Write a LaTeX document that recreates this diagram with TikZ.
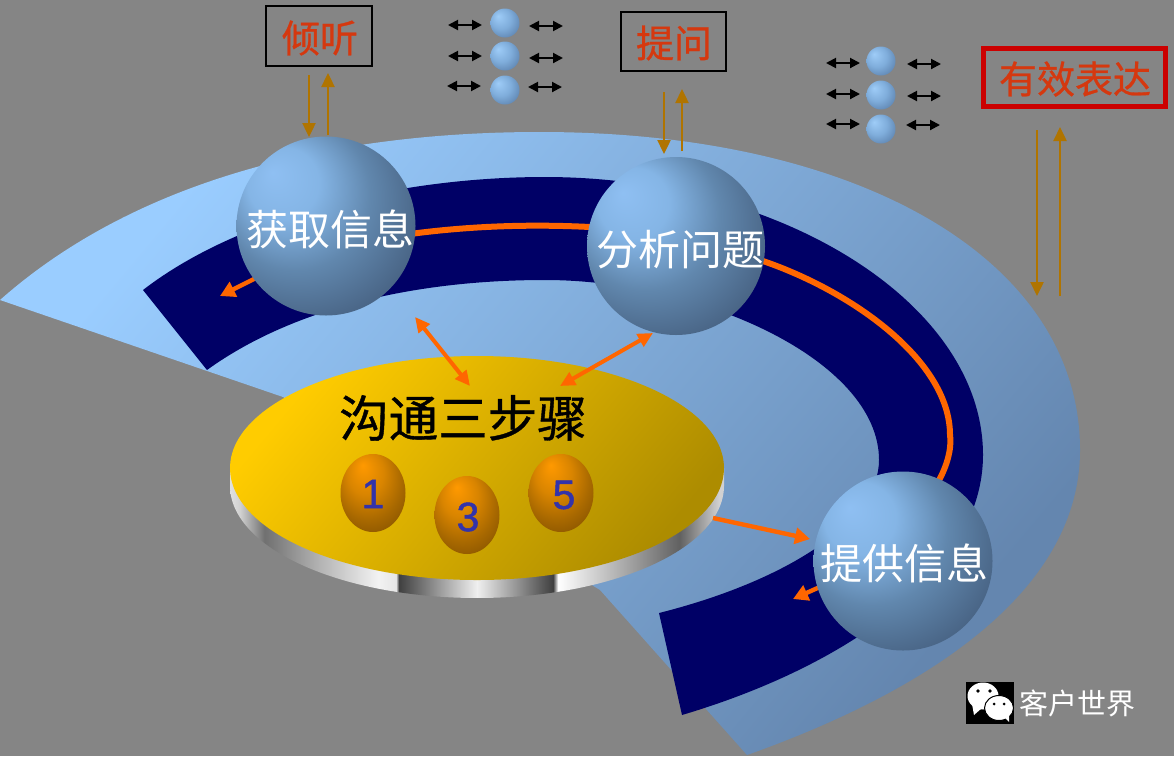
\documentclass[tikz,border=0pt]{standalone}
\usepackage{fontspec}
\setmainfont{Liberation Sans}
\newfontfamily\cjk{Noto Sans CJK SC}
\newfontfamily\cjkfat[FakeBold=0.8]{Noto Sans CJK SC}
\newfontfamily\numfat[FakeBold=1.2]{Liberation Sans}
\usetikzlibrary{arrows.meta,shapes.geometric}
\definecolor{bgc}{HTML}{858585}
\definecolor{navyc}{HTML}{000066}
\definecolor{orangec}{HTML}{FF6600}
\definecolor{brownc}{HTML}{B07400}
\definecolor{redtxt}{HTML}{D5380F}
\definecolor{redbox}{HTML}{CC0000}
\definecolor{numc}{HTML}{3333AA}
\definecolor{secA}{HTML}{9ACDFF}
\definecolor{secB}{HTML}{6486AF}
\definecolor{discA}{HTML}{FFCC00}
\definecolor{discB}{HTML}{AD8C00}
\pgfdeclareradialshading{sphshade}{\pgfpoint{-15bp}{15bp}}{%
 rgb(0bp)=(0.56,0.75,0.95);rgb(10bp)=(0.52,0.71,0.90);rgb(21bp)=(0.38,0.53,0.68);rgb(32bp)=(0.29,0.40,0.53);rgb(44bp)=(0.20,0.27,0.36);rgb(50bp)=(0.20,0.27,0.36)}
\pgfdeclareradialshading{smallshade}{\pgfpoint{-12bp}{12bp}}{%
 rgb(0bp)=(0.62,0.80,0.97);rgb(18bp)=(0.50,0.68,0.86);rgb(38bp)=(0.33,0.47,0.64);rgb(50bp)=(0.33,0.47,0.64)}
\pgfdeclareradialshading{eggshade}{\pgfpoint{-8bp}{18bp}}{%
 rgb(0bp)=(1,0.60,0);rgb(14bp)=(0.85,0.52,0);rgb(26bp)=(0.66,0.41,0);rgb(40bp)=(0.47,0.29,0);rgb(50bp)=(0.47,0.29,0)}
\pgfdeclarehorizontalshading{rimshade}{100bp}{%
 rgb(0bp)=(0.88,0.88,0.88);rgb(25bp)=(0.88,0.88,0.88);rgb(26bp)=(0.82,0.82,0.82);rgb(28.5bp)=(0.44,0.44,0.44);rgb(34bp)=(0.70,0.70,0.70);rgb(40bp)=(0.95,0.95,0.95);rgb(41.8bp)=(0.90,0.90,0.90);rgb(42.1bp)=(0.25,0.25,0.25);rgb(50bp)=(0.94,0.94,0.94);rgb(57.7bp)=(0.25,0.25,0.25);rgb(58.2bp)=(1,1,1);rgb(70.5bp)=(0.38,0.38,0.38);rgb(74.5bp)=(0.82,0.82,0.82);rgb(100bp)=(0.82,0.82,0.82)}
\tikzset{
 bigball/.style={circle,minimum size=#1,inner sep=0pt,shading=sphshade},
 smallball/.style={circle,minimum size=29pt,inner sep=0pt,shading=smallshade},
 eggnode/.style={ellipse,minimum width=65pt,minimum height=78pt,inner sep=0pt,shading=eggshade},
 balllabel/.style={text=white,font=\cjk\fontsize{42}{42}\selectfont,inner sep=0pt},
 redlabel/.style={text=redtxt,font=\cjkfat\fontsize{38}{38}\selectfont,inner sep=0pt},
 numlabel/.style={text=numc,font=\numfat\fontsize{41}{41}\selectfont,inner sep=0pt},
 brownarrow/.style={draw=brownc,line width=2.4pt,-{Triangle[length=14pt,width=13pt]}},
 blackarrow/.style={draw=black,line width=2pt,{Triangle[length=10pt,width=10pt]}-{Triangle[length=10pt,width=10pt]}},
 orangearrow/.style={draw=orangec,line width=4.4pt,-{Triangle[length=15pt,width=16pt]}},
 orangedouble/.style={draw=orangec,line width=4pt,{Triangle[length=15pt,width=14pt]}-{Triangle[length=15pt,width=14pt]}},
 orangeline/.style={draw=orangec,line width=6pt},
}
\begin{document}
\begin{tikzpicture}[x=1pt,y=-1pt]
\useasboundingbox (0,0) rectangle (1174,756);
\fill[bgc] (0,0) rectangle (1174,756);
% sector
\path[shading=axis,top color=secA,bottom color=secB,shading angle=50]
 (0,300) .. controls (130,185) and (320,132) .. (540,132)
 .. controls (860,132) and (1080,260) .. (1080,450)
 .. controls (1080,590) and (930,690) .. (747,755)
 -- (600,590) -- (283,397) -- cycle;
% ring
\fill[navyc]
 (143,290) .. controls (240,215) and (400,177) .. (545,177)
 .. controls (780,177) and (983,303) .. (983,455)
 .. controls (983,570) and (850,665) .. (682,715)
 -- (659,613)
 .. controls (790,580) and (879,520) .. (879,460)
 .. controls (879,360) and (700,280) .. (545,280)
 .. controls (410,280) and (290,310) .. (207,370)
 -- cycle;
% orange track
\coordinate (trA) at (410,234);
\coordinate (trB) at (590,227);
\coordinate (trC) at (760,260);
\coordinate (trD) at (950,435);
\coordinate (trE) at (938,482);
\draw[orangeline] (trA) .. controls (470,226) and (530,224) .. (trB);
\draw[orangeline] (trC) .. controls (850,290) and (950,360) .. (trD) .. controls (952,450) and (946,468) .. (trE);
\coordinate (exitA) at (258,277);
\coordinate (tipA) at (220,296);
\draw[orangearrow] (exitA) -- (tipA);
\coordinate (exitC) at (822,586);
\coordinate (tipC) at (793,599);
\draw[orangearrow] (exitC) -- (tipC);
% disc
\path[shading=rimshade]
 plot[domain=0:180,samples=90] ({477+247*cos(\x)},{486+112*sin(\x)}) -- (230,468) -- (724,468) -- cycle;
\node[ellipse,minimum width=494pt,minimum height=224pt,inner sep=0pt,shading=axis,top color=discA,bottom color=discB,shading angle=50] (disc) at (477,468) {};
\node[text=black,font=\cjkfat\fontsize{49.5}{49.5}\selectfont,inner sep=0pt] (disctext) at (463,418) {沟通三步骤};
\node[eggnode] (e1) at (373,493) {};
\node[eggnode] (e3) at (467,515) {};
\node[eggnode] (e5) at (561,493) {};
\node[numlabel] (n1) at (373,494) {1};
\node[numlabel] (n3) at (468,517) {3};
\node[numlabel] (n5) at (564,495) {5};
% big spheres
\node[bigball=179pt] (s1) at (326,226) {};
\node[bigball=178pt] (s2) at (676,246) {};
\node[bigball=179pt] (s3) at (903,561) {};
\node[balllabel] (t1) at (330,229) {获取信息};
\node[balllabel] (t2) at (680,250) {分析问题};
\node[balllabel] (t3) at (904,563) {提供信息};
% orange connectors
\coordinate (dA) at (415,317);
\coordinate (dB) at (470,386);
\coordinate (dC) at (653,333);
\coordinate (dD) at (560,386);
\coordinate (dE) at (713,518);
\coordinate (dF) at (810,539);
\draw[orangedouble] (dA) -- (dB);
\draw[orangedouble] (dC) -- (dD);
\draw[orangearrow] (dE) -- (dF);
% boxes
\node[draw=black,line width=2pt,minimum width=106pt,minimum height=60pt,inner sep=0pt] (b1) at (318.5,35.5) {};
\node[redlabel] (b1t) at (320,38) {倾听};
\node[draw=black,line width=2pt,minimum width=105pt,minimum height=59pt,inner sep=0pt] (b2) at (673,41) {};
\node[redlabel] (b2t) at (674,43) {提问};
\node[draw=redbox,line width=4.5pt,minimum width=182pt,minimum height=58pt,inner sep=0pt] (b3) at (1074.5,77.5) {};
\node[redlabel] (b3t) at (1075,79) {有效表达};
% brown arrows
\coordinate (a1) at (309,75); \coordinate (a2) at (309,137);
\coordinate (a3) at (328,135); \coordinate (a4) at (328,73);
\coordinate (a5) at (664,92); \coordinate (a6) at (664,154);
\coordinate (a7) at (682,151); \coordinate (a8) at (682,89);
\coordinate (a9) at (1037,130); \coordinate (a10) at (1037,296);
\coordinate (a11) at (1060,296); \coordinate (a12) at (1060,127);
\draw[brownarrow] (a1) -- (a2);
\draw[brownarrow] (a3) -- (a4);
\draw[brownarrow] (a5) -- (a6);
\draw[brownarrow] (a7) -- (a8);
\draw[brownarrow] (a9) -- (a10);
\draw[brownarrow] (a11) -- (a12);
% small balls
\node[smallball] (p1) at (505,23) {};
\node[smallball] (p2) at (505,56) {};
\node[smallball] (p3) at (505,90) {};
\node[smallball] (q1) at (881,61) {};
\node[smallball] (q2) at (881,95) {};
\node[smallball] (q3) at (881,129) {};
\draw[blackarrow] (448,25) coordinate (l1) -- (482,25) coordinate (l2);
\draw[blackarrow] (529,26) coordinate (l3) -- (563,26) coordinate (l4);
\draw[blackarrow] (448,56) coordinate (l5) -- (482,56) coordinate (l6);
\draw[blackarrow] (529,58) coordinate (l7) -- (563,58) coordinate (l8);
\draw[blackarrow] (447,86) coordinate (l9) -- (481,86) coordinate (l10);
\draw[blackarrow] (528,87) coordinate (l11) -- (562,87) coordinate (l12);
\draw[blackarrow] (826,63) coordinate (r1) -- (860,63) coordinate (r2);
\draw[blackarrow] (907,64) coordinate (r3) -- (941,64) coordinate (r4);
\draw[blackarrow] (826,94) coordinate (r5) -- (860,94) coordinate (r6);
\draw[blackarrow] (907,96) coordinate (r7) -- (941,96) coordinate (r8);
\draw[blackarrow] (826,124) coordinate (r9) -- (860,124) coordinate (r10);
\draw[blackarrow] (906,125) coordinate (r11) -- (940,125) coordinate (r12);
% wechat logo
\fill[black] (966,682) rectangle (1014,724);
\fill[white] (983,696) circle[x radius=15.5,y radius=13.5];
\fill[white] (972,704) -- (974,715) -- (982,708) -- cycle;
\fill[black] (978,691) circle[radius=1.8];
\fill[black] (990,691) circle[radius=1.8];
\fill[white,draw=black,line width=1pt] (999,708) circle[x radius=14.5,y radius=12.5];
\fill[white] (1003,716) -- (1009,722) -- (1009,712) -- cycle;
\fill[black] (994,704) circle[radius=1.5];
\fill[black] (1004,704) circle[radius=1.5];
\node[text=white,font=\cjk\fontsize{29}{29}\selectfont,inner sep=0pt] (wx) at (1077,703) {客户世界};
\end{tikzpicture}
\end{document}
